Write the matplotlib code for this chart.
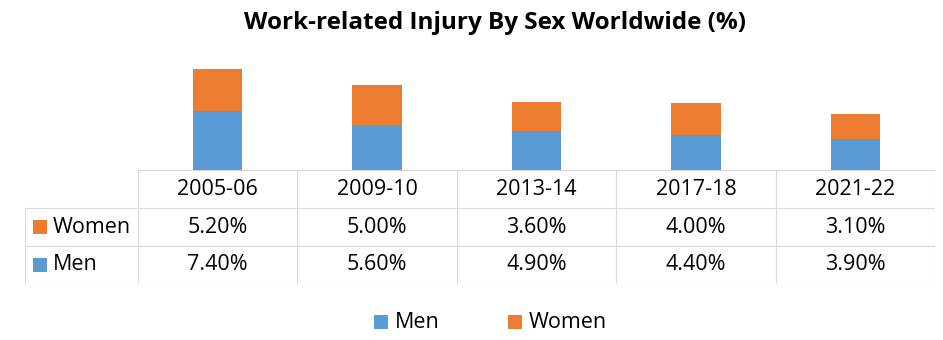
import matplotlib.pyplot as plt
from matplotlib.patches import Rectangle

plt.rcParams['font.family'] = ['Open Sans', 'DejaVu Sans']

periods = ['2005-06', '2009-10', '2013-14', '2017-18', '2021-22']
men = [7.4, 5.6, 4.9, 4.4, 3.9]
women = [5.2, 5.0, 3.6, 4.0, 3.1]

c_men = '#5b9bd5'
c_women = '#ed7d31'
c_grid = '#d9d9d9'

W, H = 943, 340
fig = plt.figure(figsize=(W / 100, H / 100), dpi=100)

def box(x0, y0, x1, y1):
    # pixel box (top-left origin) -> figure fraction rect
    return [x0 / W, 1 - y1 / H, (x1 - x0) / W, (y1 - y0) / H]

# stacked bars
ax = fig.add_axes(box(138, 58, 935, 170))
x = range(len(periods))
ax.bar(x, men, width=0.31, color=c_men)
ax.bar(x, women, width=0.31, bottom=men, color=c_women)
ax.set_xlim(-0.5, len(periods) - 0.5)
ax.set_ylim(0, 14)
ax.axis('off')

# data table under the bars
tx0, tx1 = 25, 935
cx0 = 138
ty = [170, 208, 246, 284]
tax = fig.add_axes(box(tx0, ty[0], tx1, ty[-1]))
tax.set_xlim(tx0, tx1)
tax.set_ylim(ty[-1], ty[0])
tax.axis('off')

col_w = (tx1 - cx0) / len(periods)
lw = 0.8
tax.plot([cx0, tx1], [ty[0], ty[0]], color=c_grid, lw=lw)
for y in ty[1:]:
    tax.plot([tx0, tx1], [y, y], color=c_grid, lw=lw)
tax.plot([tx0, tx0], [ty[1], ty[-1]], color=c_grid, lw=lw)
for i in range(len(periods) + 1):
    xc = cx0 + i * col_w
    tax.plot([xc, xc], [ty[0], ty[-1]], color=c_grid, lw=lw)

fs = 15.5
for i, p in enumerate(periods):
    xc = cx0 + (i + 0.5) * col_w
    tax.text(xc, (ty[0] + ty[1]) / 2, p, ha='center', va='center', fontsize=fs)
    tax.text(xc, (ty[1] + ty[2]) / 2, f'{women[i]:.2f}%', ha='center', va='center', fontsize=fs)
    tax.text(xc, (ty[2] + ty[3]) / 2, f'{men[i]:.2f}%', ha='center', va='center', fontsize=fs)

for label, col, r in [('Women', c_women, 1), ('Men', c_men, 2)]:
    ym = (ty[r] + ty[r + 1]) / 2
    tax.add_patch(Rectangle((33, ym - 7), 14, 14, color=col, lw=0))
    tax.text(53, ym, label, ha='left', va='center', fontsize=fs)

# legend
lax = fig.add_axes(box(0, 300, W, 340))
lax.set_xlim(0, W)
lax.set_ylim(340, 300)
lax.axis('off')
for label, col, lx in [('Men', c_men, 374), ('Women', c_women, 508)]:
    lax.add_patch(Rectangle((lx, 315), 14, 14, color=col, lw=0))
    lax.text(lx + 21, 322, label, ha='left', va='center', fontsize=fs)

fig.text(495 / W, 1 - 23 / H, 'Work-related Injury By Sex Worldwide (%)',
         ha='center', va='center', fontsize=17.5, fontweight='bold')

fig.savefig('out.png', dpi=100)
